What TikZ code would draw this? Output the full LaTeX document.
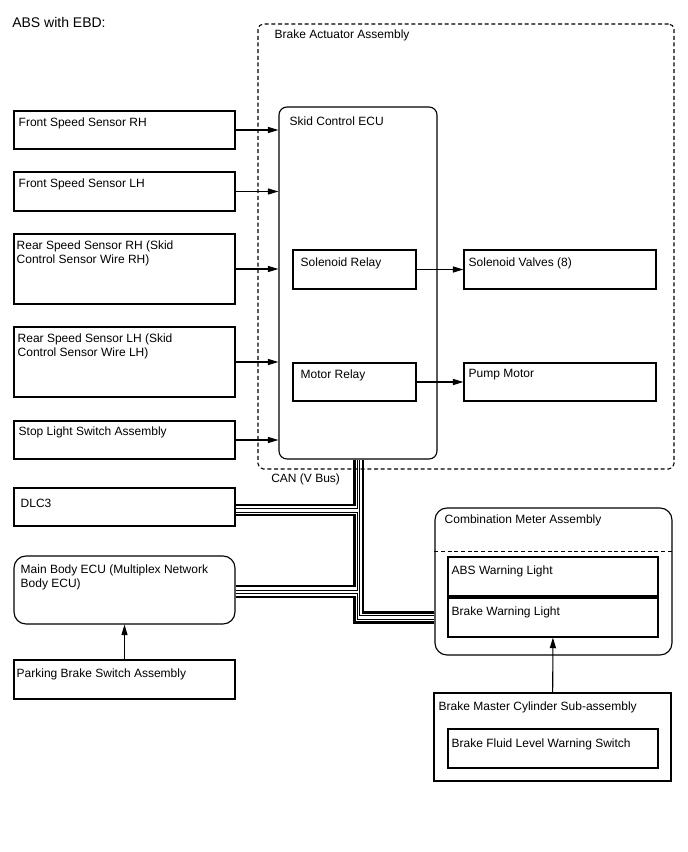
\documentclass[tikz,border=0pt]{standalone}
\usepackage{fontspec}
\setmainfont{Liberation Sans}
\usetikzlibrary{positioning,arrows.meta,fit,calc}
\tikzset{
  blk/.style={draw,line width=0.85pt,inner sep=0pt},
  blk-round/.style={blk,rounded corners=6pt},
  frame-dash/.style={draw,line width=0.8pt,dash pattern=on 3pt off 2pt,
    rounded corners=4pt,inner sep=0pt},
  tag/.style={anchor=north west,inner sep=0pt,align=left,
    font=\fontsize{9}{10.5}\selectfont},
  arrow/.style={-{Triangle[length=8pt,width=4.6pt]},line width=0.8pt},
  can-thick/.style={line width=2pt},
  can-thin/.style={line width=0.75pt},
}

\begin{document}
\begin{tikzpicture}[x=0.75pt,y=-0.75pt]
  \path[use as bounding box,fill=white] (0,0) rectangle (688,852);
  \node[tag,font=\fontsize{10.5}{12}\selectfont] (title) at (12,17) {ABS with EBD:};

  % brake actuator assembly
  \node[frame-dash,fit={(258,24) (674,469)}] (act) {};
  \node[tag] at ([shift={(17,6)}]act.north west) {Brake Actuator Assembly};

  % inputs
  \node[blk,fit={(14,111) (235,149)}] (fsrh) {};
  \node[tag] at ([shift={(5,7)}]fsrh.north west) {Front Speed Sensor RH};
  \node[blk,fit={(14,172) (235,211)}] (fslh) {};
  \node[tag] at ([shift={(5,7)}]fslh.north west) {Front Speed Sensor LH};
  \node[blk,fit={(14,234) (235,304)}] (rsrh) {};
  \node[tag] at ([shift={(3,7)}]rsrh.north west) {Rear Speed Sensor RH (Skid\\Control Sensor Wire RH)};
  \node[blk,fit={(14,327) (235,397)}] (rslh) {};
  \node[tag] at ([shift={(4,7)}]rslh.north west) {Rear Speed Sensor LH (Skid\\Control Sensor Wire LH)};
  \node[blk,fit={(14,421) (235,459)}] (sls) {};
  \node[tag] at ([shift={(5,6)}]sls.north west) {Stop Light Switch Assembly};

  % skid control ecu
  \node[blk-round,fit={(279,107) (437,459)}] (ecu) {};
  \node[tag] at ([shift={(11,10)}]ecu.north west) {Skid Control ECU};
  \node[blk,fit={(293,250) (416,289)}] (srly) {};
  \node[tag] at ([shift={(8,8)}]srly.north west) {Solenoid Relay};
  \node[blk,fit={(293,363) (416,401)}] (mrly) {};
  \node[tag] at ([shift={(8,7)}]mrly.north west) {Motor Relay};
  \node[blk,fit={(464,250) (656,289)}] (sv) {};
  \node[tag] at ([shift={(5,8)}]sv.north west) {Solenoid Valves (8)};
  \node[blk,fit={(464,363) (656,401)}] (pm) {};
  \node[tag] at ([shift={(5,7)}]pm.north west) {Pump Motor};

  \node[tag] (can) at (271,474) {CAN (V Bus)};

  % lower part
  \node[blk,fit={(14,488) (235,526)}] (dlc) {};
  \node[tag] at ([shift={(7,11)}]dlc.north west) {DLC3};
  \node[blk-round,rounded corners=9pt,fit={(14,556) (235,624)}] (mbe) {};
  \node[tag] at ([shift={(7,9)}]mbe.north west) {Main Body ECU (Multiplex Network\\Body ECU)};
  \node[blk,fit={(14,660) (235,699)}] (pbs) {};
  \node[tag] at ([shift={(3,9)}]pbs.north west) {Parking Brake Switch Assembly};

  \node[blk-round,rounded corners=9pt,fit={(435,508) (672,655)}] (cma) {};
  \node[tag] at ([shift={(10,7)}]cma.north west) {Combination Meter Assembly};
  \draw[line width=0.8pt,dash pattern=on 3pt off 2pt]
    ($(cma.north west)+(0,44)$) -- ($(cma.north east)+(0,44)$);
  \node[blk,fit={(448,557) (658,596)}] (awl) {};
  \node[tag] at ([shift={(4,9)}]awl.north west) {ABS Warning Light};
  \node[blk,fit={(448,598) (658,637)}] (bwl) {};
  \node[tag] at ([shift={(4,9)}]bwl.north west) {Brake Warning Light};

  \node[blk,fit={(434,693) (671,781)}] (bmc) {};
  \node[tag] at ([shift={(5,9)}]bmc.north west) {Brake Master Cylinder Sub-assembly};
  \node[blk,fit={(448,729) (658,768)}] (bfl) {};
  \node[tag] at ([shift={(4,10)}]bfl.north west) {Brake Fluid Level Warning Switch};

  % signal arrows
  \foreach \src in {fsrh,fslh,rsrh,rslh,sls}
    \draw[arrow] (\src.east) -- (\src.east -| ecu.west);
  \draw[arrow] (srly) -- (sv);
  \draw[arrow] (mrly) -- (pm);
  \draw[arrow] (pbs) -- (mbe);
  \draw[arrow] (bmc) -- (bwl);

  % can bus
  \coordinate (xa) at (354.5,0);
  \coordinate (xb) at (357.5,0);
  \coordinate (xc) at (359.5,0);
  \coordinate (xd) at (363,0);
  \draw[can-thick] (ecu.south -| xa) |- ($(dlc.east)+(0,-2)$);
  \draw[can-thin] (ecu.south -| xb) |- ($(dlc.east)+(0,1)$);
  \draw[can-thin] ($(dlc.east)+(0,5)$) -| (mbe.east -| xb) -- (mbe.east);
  \draw[can-thick] ($(dlc.east)+(0,8)$) -| ($(mbe.east -| xa)+(0,-4)$) -- ($(mbe.east)+(0,-4)$);
  \draw[can-thin] ($(mbe.east)+(0,3.5)$) -| ($(cma.west -| xb)+(0,38)$) -- ($(cma.west)+(0,38)$);
  \draw[can-thick] ($(mbe.east)+(0,7)$) -| ($(cma.west -| xa)+(0,41)$) -- ($(cma.west)+(0,41)$);
  \draw[can-thin] (ecu.south -| xc) |- ($(cma.west)+(0,34)$);
  \draw[can-thick] (ecu.south -| xd) |- ($(cma.west)+(0,31)$);
\end{tikzpicture}
\end{document}
